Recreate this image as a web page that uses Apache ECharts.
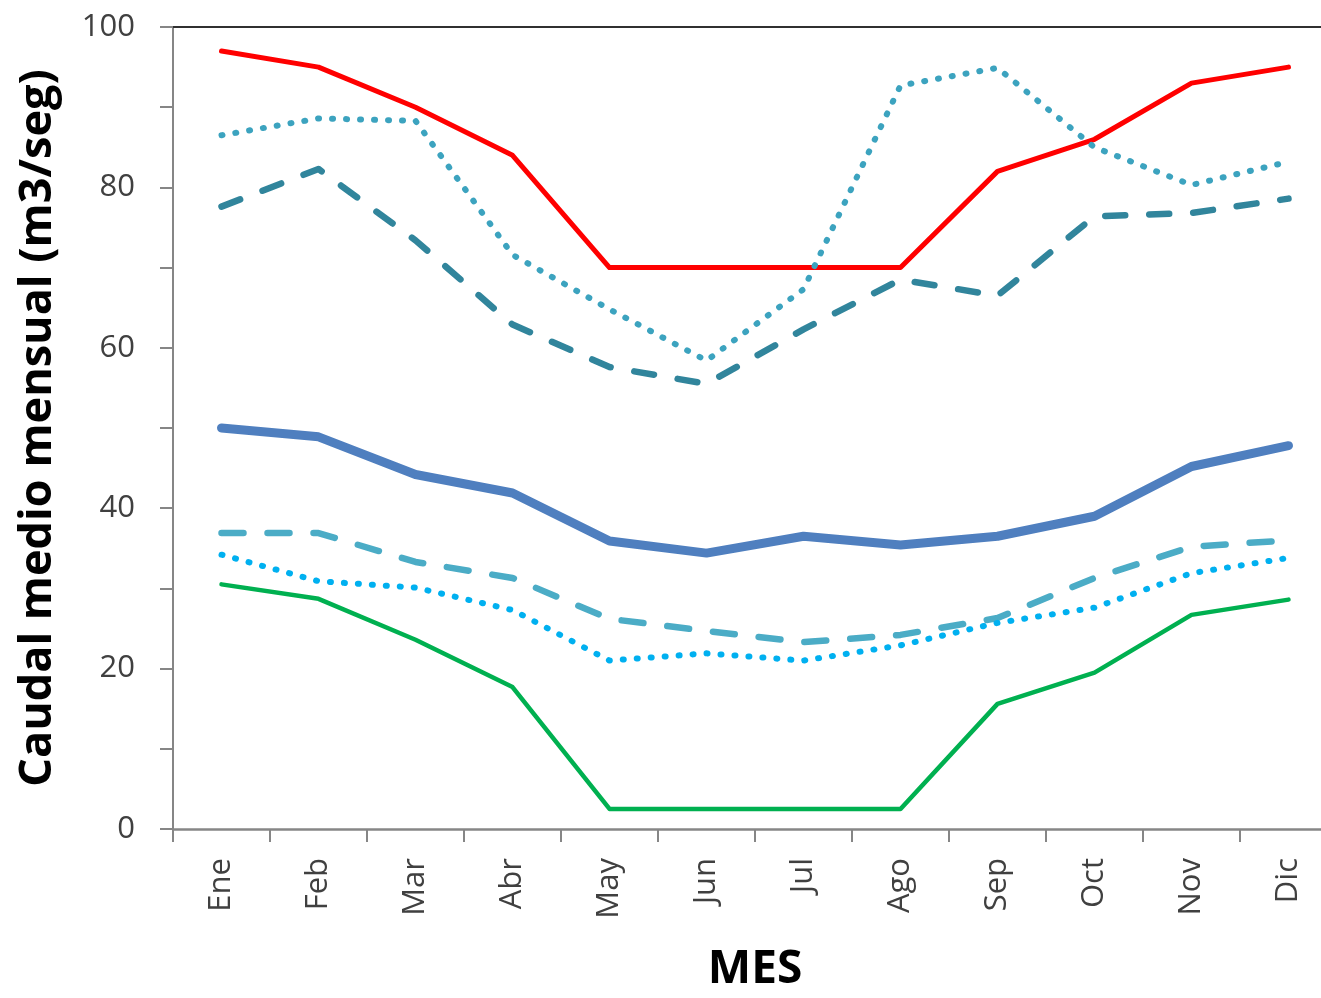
<!DOCTYPE html>
<html>
<head>
<meta charset="utf-8">
<script src="https://cdn.jsdelivr.net/npm/echarts@6/dist/echarts.min.js"></script>
<style>
html,body{margin:0;padding:0;background:#fff;overflow:hidden;}
#wrap{width:1321px;height:998px;overflow:hidden;}
#chart{width:1340px;height:998px;}
</style>
</head>
<body>
<div id="wrap"><div id="chart"></div></div>
<script>
var months = ['Ene','Feb','Mar','Abr','May','Jun','Jul','Ago','Sep','Oct','Nov','Dic'];
var redMax      = [97, 95, 90, 84, 70, 70, 70, 70, 82, 86, 93, 95];
var dottedHigh  = [86.5, 88.6, 88.3, 71.6, 64.8, 58.4, 67.3, 92.7, 94.9, 85, 80.3, 83.2];
var dashedHigh  = [77.6, 82.3, 73.4, 62.9, 57.6, 55.5, 62.3, 68.5, 66.5, 76.4, 76.8, 78.6];
var blueMean    = [50.0, 48.9, 44.2, 41.9, 35.9, 34.4, 36.5, 35.4, 36.5, 39.0, 45.2, 47.8];
var dashedLow   = [36.9, 36.9, 33.3, 31.3, 26.2, 24.7, 23.3, 24.2, 26.3, 31.3, 35.2, 36.0];
var dottedLow   = [34.2, 30.9, 30.1, 27.3, 21.0, 21.9, 21.0, 22.9, 25.7, 27.6, 31.9, 33.8];
var greenMin    = [30.5, 28.7, 23.6, 17.7, 2.5, 2.5, 2.5, 2.5, 15.6, 19.5, 26.7, 28.6];
var yTickLabels = [0, 20, 40, 60, 80, 100];

var font = "'Open Sans', sans-serif";
var chart = echarts.init(document.getElementById('chart'));
function line(data, color, width, type) {
  return {
    type: 'line', data: data, symbol: 'none', smooth: false, animation: false,
    lineStyle: { color: color, width: width, type: type || 'solid', cap: 'round', join: 'round' }
  };
}
chart.setOption({
  animation: false,
  backgroundColor: '#fff',
  grid: { left: 173, right: 3, top: 27, bottom: 159 },
  xAxis: [{
    type: 'category', data: months, boundaryGap: true,
    name: 'MES', nameLocation: 'middle', nameGap: 118,
    nameTextStyle: { fontFamily: font, fontSize: 46, fontWeight: 'bold', color: '#000' },
    axisLine: { lineStyle: { color: '#868686', width: 2.5 } },
    axisTick: { show: true, length: 13, lineStyle: { color: '#868686', width: 2 } },
    axisLabel: { rotate: 90, margin: 29, fontFamily: font, fontSize: 31, color: '#404040' },
    splitLine: { show: false }
  }, {
    type: 'category', data: months, position: 'top',
    axisLine: { lineStyle: { color: '#303030', width: 2 } },
    axisTick: { show: false }, axisLabel: { show: false }
  }],
  yAxis: {
    type: 'value', min: 0, max: 100, interval: 10,
    name: 'Caudal medio mensual (m3/seg)', nameLocation: 'middle', nameGap: 112,
    nameTextStyle: { fontFamily: font, fontSize: 45, fontWeight: 'bold', color: '#000' },
    axisLine: { show: true, lineStyle: { color: '#868686', width: 2 } },
    axisTick: { show: true, length: 13, lineStyle: { color: '#868686', width: 2 } },
    axisLabel: {
      margin: 38, fontFamily: font, fontSize: 31, color: '#404040',
      formatter: function (v) { return yTickLabels.indexOf(v) >= 0 ? String(v) : ''; }
    },
    splitLine: { show: false }
  },
  series: [
    line(redMax, '#ff0000', 5),
    line(dottedHigh, '#3ca3bf', 6, [1, 13]),
    line(dashedHigh, '#31859c', 6.5, [20, 24]),
    line(blueMean, '#4f7fbf', 9),
    line(dashedLow, '#4bacc6', 6.5, [22, 24]),
    line(dottedLow, '#00b0f0', 6, [1, 13]),
    line(greenMin, '#00b050', 4.5)
  ]
});
</script>
</body>
</html>
